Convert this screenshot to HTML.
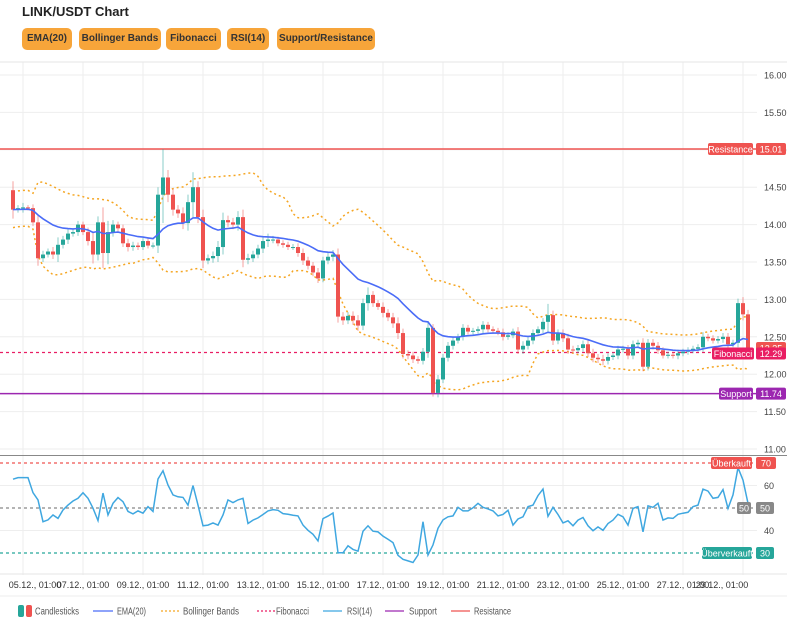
<!DOCTYPE html>
<html><head><meta charset="utf-8">
<style>
body{margin:0;background:#fff;font-family:"Liberation Sans",sans-serif;}
#wrap{position:relative;width:787px;height:620px;overflow:hidden;}
.title{position:absolute;left:22px;top:4px;font-size:13px;font-weight:bold;color:#222;}
.btn{position:absolute;top:28px;height:22px;line-height:22px;background:#f7a53a;border-radius:5px;font-size:10px;color:#333;text-align:center;font-weight:bold;}
</style></head><body>
<div id="wrap">
<div class="title">LINK/USDT Chart</div>
<div class="btn" style="left:22px;width:50px">EMA(20)</div>
<div class="btn" style="left:79px;width:82px">Bollinger Bands</div>
<div class="btn" style="left:166px;width:55px">Fibonacci</div>
<div class="btn" style="left:227px;width:42px">RSI(14)</div>
<div class="btn" style="left:277px;width:98px">Support/Resistance</div>
<svg id="svg" width="787" height="620" style="position:absolute;left:0;top:0"></svg>
</div>
<script>
const closes=[14.20,14.22,14.23,14.22,14.03,13.55,13.60,13.64,13.60,13.73,13.80,13.88,13.90,14.00,13.90,13.78,13.60,14.03,13.62,13.90,14.00,13.95,13.75,13.70,13.72,13.70,13.78,13.72,13.72,14.40,14.63,14.40,14.20,14.15,14.02,14.30,14.50,14.10,13.52,13.55,13.58,13.70,14.06,14.03,14.00,14.10,13.53,13.55,13.60,13.68,13.78,13.80,13.80,13.75,13.73,13.70,13.70,13.62,13.52,13.45,13.36,13.28,13.52,13.57,13.60,12.77,12.72,12.78,12.72,12.65,12.95,13.06,12.95,12.90,12.82,12.76,12.68,12.55,12.27,12.25,12.20,12.18,12.30,12.62,11.75,11.93,12.22,12.38,12.45,12.50,12.62,12.57,12.58,12.60,12.66,12.60,12.58,12.56,12.50,12.52,12.57,12.33,12.38,12.45,12.55,12.60,12.70,12.79,12.45,12.55,12.48,12.33,12.32,12.35,12.40,12.28,12.22,12.20,12.18,12.23,12.25,12.33,12.34,12.25,12.40,12.42,12.10,12.42,12.38,12.32,12.25,12.26,12.25,12.28,12.30,12.32,12.34,12.36,12.50,12.48,12.45,12.47,12.50,12.40,12.42,12.95,12.80,12.35];
const firstOpen=14.46;
const wickPad=[0.12,0.04,0.06,0.03,0.05,0.1,0.05,0.04,0.06,0.1,0.05,0.06,0.04,0.05,0.04,0.06,0.12,0.08,0.2,0.15,0.06,0.04,0.05,0.06,0.05,0.04,0.04,0.04,0.04,0.1,0.38,0.1,0.08,0.06,0.08,0.1,0.2,0.08,0.1,0.05,0.06,0.08,0.1,0.06,0.06,0.08,0.1,0.06,0.05,0.05,0.06,0.08,0.05,0.04,0.04,0.04,0.04,0.05,0.06,0.05,0.05,0.06,0.05,0.05,0.06,0.08,0.06,0.05,0.06,0.07,0.06,0.1,0.05,0.04,0.06,0.05,0.06,0.08,0.06,0.05,0.05,0.04,0.05,0.08,0.05,0.06,0.05,0.05,0.05,0.04,0.05,0.04,0.04,0.04,0.05,0.04,0.04,0.04,0.05,0.04,0.04,0.06,0.06,0.05,0.05,0.04,0.05,0.15,0.06,0.05,0.05,0.06,0.05,0.04,0.05,0.05,0.06,0.05,0.06,0.05,0.04,0.05,0.04,0.05,0.05,0.04,0.06,0.05,0.05,0.05,0.04,0.04,0.04,0.05,0.04,0.04,0.04,0.04,0.06,0.04,0.04,0.04,0.05,0.05,0.04,0.06,0.08,0.06];
const rsiValues=[62.8,63.5,63.5,63.5,56.8,53.6,43.9,44.7,46.9,45.4,49.1,51.3,53.1,54.3,56.8,54.3,49.9,44.4,56.6,46.9,52.1,54.6,52.8,48.5,47.4,48.7,47.7,50.6,48.5,62.9,66.6,60.2,55.8,55,54.7,51.3,60,51.3,42.1,42.4,43.4,42.4,46.9,53.6,52.4,53.6,54.3,43.1,44.6,45.6,47.1,48.7,49.3,49,47.5,47.2,46.8,46.5,42.4,40.1,38.3,35.4,45.3,46.4,47.8,30.1,30.1,33.2,31.6,30.8,39.7,42.1,39.7,39.4,37.5,36.1,34.6,29,27.2,26.5,25.8,29.1,43.9,29.1,33.6,41,44.7,46.1,46.5,50.3,48.7,48.7,50.1,52.1,50.3,49.6,48.7,46.5,47.1,49,42.4,45.1,46.1,50.6,51.3,55.5,58.4,46.3,50.3,47.1,43.4,44.3,42.1,44.6,45.8,42.1,39.9,41.6,40.1,43.1,44.6,47.2,46.1,42.4,49.8,50.6,39.4,51,50.3,52.1,44.6,45.6,45.4,47.2,47.7,48.1,50.6,51.3,58.4,57.5,54.3,54.7,58.2,49.8,55.8,67.9,62.4,52.1];
const priceTicks=[11.00,11.50,12.00,12.50,13.00,13.50,14.00,14.50,15.00,15.50,16.00];
const rsiTicks=[40,60];
const dateLabels=["05.12., 01:00","07.12., 01:00","09.12., 01:00","11.12., 01:00","13.12., 01:00","15.12., 01:00","17.12., 01:00","19.12., 01:00","21.12., 01:00","23.12., 01:00","25.12., 01:00","27.12., 01:00","29.12., 01:00"];
const support=11.74, resistance=15.01, fib=12.29;
const rsiLevels=[70,50,30];

const NS="http://www.w3.org/2000/svg";
const svg=document.getElementById('svg');
function el(t,a,p){const e=document.createElementNS(NS,t);for(const k in a)e.setAttribute(k,a[k]);(p||svg).appendChild(e);return e;}
const xS=i=>13+5*i;
const yP=p=>75+(16-p)*74.8;
const yR=r=>463+(70-r)*2.25;
const plotR=757;

priceTicks.forEach(t=>{
 const g=el('line',{x1:0,x2:plotR,y1:yP(t),y2:yP(t),stroke:'#eee'});
 
 
 const tx=el('text',{x:764,y:yP(t)+3.5,'font-size':9,fill:'#444'});tx.textContent=t.toFixed(2);
 
 
});
rsiTicks.forEach(t=>{
 const g=el('line',{x1:0,x2:plotR,y1:yR(t),y2:yR(t),stroke:'#eee'});
 
 
 const tx=el('text',{x:764,y:yR(t)+3.5,'font-size':9,fill:'#444'});tx.textContent=t;
 
 
});
dateLabels.forEach((d,k)=>{
 const x=23+60*k;
 const g=el('line',{x1:x,x2:x,y1:62,y2:575,stroke:'#eee'});
 
 
 let cx=x; if(k==0)cx=35; if(k==12)cx=722;
 const tx=el('text',{x:cx,y:588,'font-size':9,fill:'#333','text-anchor':'middle'});tx.textContent=d;
 
 
});
el('line',{x1:0,x2:787,y1:62,y2:62,stroke:'#e6e6e6'});
el('line',{x1:0,x2:787,y1:455.5,y2:455.5,stroke:'#888'});
el('line',{x1:0,x2:787,y1:574,y2:574,stroke:'#e6e6e6'});
el('line',{x1:0,x2:787,y1:596,y2:596,stroke:'#eee'});

const opens=closes.map((c,i)=>i==0?firstOpen:closes[i-1]);
const ema=[];closes.forEach((c,i)=>{ema.push(i==0?c:(c*2/21+ema[i-1]*19/21));});
const bbU=[],bbL=[];
closes.forEach((c,i)=>{const w=closes.slice(Math.max(0,i-19),i+1);const m=w.reduce((a,b)=>a+b,0)/w.length;const sd=Math.sqrt(w.reduce((a,b)=>a+(b-m)*(b-m),0)/w.length);bbU.push(m+2*Math.max(sd,0.12));bbL.push(m-2*Math.max(sd,0.12));});
const path=(arr,f)=>arr.map((v,i)=>(i?'L':'M')+xS(i).toFixed(1)+','+f(v).toFixed(1)).join('');

let e=el('line',{x1:0,x2:plotR,y1:yP(resistance),y2:yP(resistance),stroke:'#ef5350','stroke-width':1.5});


e=el('line',{x1:0,x2:plotR,y1:yP(support),y2:yP(support),stroke:'#9c27b0','stroke-width':1.5});


e=el('line',{x1:0,x2:plotR,y1:yP(fib),y2:yP(fib),stroke:'#e91e63','stroke-width':1.2,'stroke-dasharray':'3,3'});



e=el('path',{d:path(bbU,yP),fill:'none',stroke:'#f5a623','stroke-width':1.5,'stroke-dasharray':'2,3'});


e=el('path',{d:path(bbL,yP),fill:'none',stroke:'#f5a623','stroke-width':1.5,'stroke-dasharray':'2,3'});



closes.forEach((c,i)=>{
 const o=opens[i],up=c>=o,col=up?'#26a69a':'#ef5350';
 const hi=Math.max(o,c)+wickPad[i],lo=Math.min(o,c)-wickPad[i];
 const w=el('line',{x1:xS(i),x2:xS(i),y1:yP(hi),y2:yP(lo),stroke:col,'stroke-opacity':0.55});
 
 
 const y1=yP(Math.max(o,c)),y2=yP(Math.min(o,c));
 const b=el('rect',{x:xS(i)-2,y:y1,width:4,height:Math.max(1,y2-y1),fill:col});
 
 
});
e=el('path',{d:path(ema,yP),fill:'none',stroke:'#4a6cf7','stroke-width':1.6});



const rc=['#ef5350','#888','#26a69a'];
rsiLevels.forEach((l,k)=>{const ln=el('line',{x1:0,x2:plotR,y1:yR(l),y2:yR(l),stroke:rc[k],'stroke-width':1.2,'stroke-dasharray':'3,3'});
 
 });
e=el('path',{d:path(rsiValues,yR),fill:'none',stroke:'#3fa7e0','stroke-width':1.5});



function tag(x,y,w,txt,col,name){const g=el('g',{});
 
 
 el('rect',{x:x,y:y-6,width:w,height:12,rx:2,fill:col},g);
 const t=el('text',{x:x+w/2,y:y+3.5,'font-size':9,fill:'#fff','text-anchor':'middle'},g);t.textContent=txt;}
tag(708,yP(resistance),45,'Resistance','#ef5350','resistance-tag');
tag(756,yP(resistance),30,resistance.toFixed(2),'#ef5350','resistance-price-tag');
tag(756,yP(closes[closes.length-1]),30,closes[closes.length-1].toFixed(2),'#ef5350','last-price-tag');
tag(712,yP(fib)+1,42,'Fibonacci','#e91e63','fibonacci-tag');
tag(756,yP(fib)+1,30,fib.toFixed(2),'#e91e63','fibonacci-price-tag');
tag(719,yP(support),34,'Support','#9c27b0','support-tag');
tag(756,yP(support),30,support.toFixed(2),'#9c27b0','support-price-tag');
tag(711,yR(70),41,'Überkauft','#ef5350','overbought-tag');
tag(756,yR(70),20,'70','#ef5350','overbought-value-tag');
tag(737,yR(50),14,'50','#888','mid-tag');
tag(756,yR(50),18,'50','#888','mid-value-tag');
tag(702,yR(30),50,'Überverkauft','#26a69a','oversold-tag');
tag(756,yR(30),18,'30','#26a69a','oversold-value-tag');

const lg=el('g',{});


el('rect',{x:18,y:605,width:6,height:12,rx:2,fill:'#26a69a'},lg);
el('rect',{x:26,y:605,width:6,height:12,rx:2,fill:'#ef5350'},lg);
const lines=[[93,113,'#4a6cf7',''],[161,179,'#f5a623','2,2'],[257,277,'#e91e63','2,2'],[323,342,'#3fa7e0',''],[385,404,'#9c27b0',''],[451,470,'#ef5350','']];
lines.forEach(l=>{el('line',{x1:l[0],x2:l[1],y1:611,y2:611,stroke:l[2],'stroke-width':1.3,'stroke-dasharray':l[3]||'none'},lg);});
const names=['Candlesticks','EMA(20)','Bollinger Bands','Fibonacci','RSI(14)','Support','Resistance'];
const tx=[35,117,183,276,347,409,474];
const tw=[44,29,56,33,25,28,37];
names.forEach((n,k)=>{
 const t=el('text',{x:tx[k],y:614.5,'font-size':10,fill:'#555',textLength:tw[k],lengthAdjust:'spacingAndGlyphs'},lg);t.textContent=n;
 
 
});
</script>
</body></html>
